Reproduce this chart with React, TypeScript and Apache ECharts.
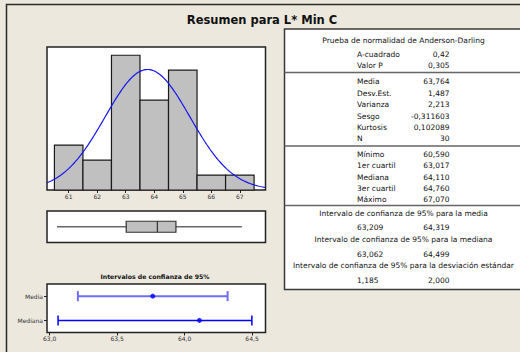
import React, { useEffect, useRef } from "react";
import * as echarts from "echarts";

// ---- data ----
const histBinCenters = [61, 62, 63, 64, 65, 66, 67];
const histCounts = [3, 2, 9, 6, 8, 1, 1];
const binWidth = 1;
const histTicks = [61, 62, 63, 64, 65, 66, 67];
const meanVal = 63.764;
const sdVal = 1.487;
const nObs = 30;
const boxStats = [60.59, 63.017, 64.11, 64.76, 67.07];
const ciCategories = ["Mediana", "Media"];
const ciLow = [63.062, 63.209];
const ciHigh = [64.499, 64.319];
const ciPoint = [64.11, 63.764];
const ciTicks = [63, 63.5, 64, 64.5];

const titleText = "Resumen para L* Min C";
const ciChartTitle = "Intervalos de confianza de 95%";
const adTitle = "Prueba de normalidad de Anderson-Darling";
const adLabels = ["A-cuadrado", "Valor P"];
const adValues = ["0,42", "0,305"];
const descLabels = ["Media", "Desv.Est.", "Varianza", "Sesgo", "Kurtosis", "N"];
const descValues = ["63,764", "1,487", "2,213", "-0,311603", "0,102089", "30"];
const quartLabels = ["Mínimo", "1er cuartil", "Mediana", "3er cuartil", "Máximo"];
const quartValues = ["60,590", "63,017", "64,110", "64,760", "67,070"];
const ciTitles = [
  "Intervalo de confianza de 95% para la media",
  "Intervalo de confianza de 95% para la mediana",
  "Intervalo de confianza de 95% para la desviación estándar",
];
const ciLowText = ["63,209", "63,062", "1,185"];
const ciHighText = ["64,319", "64,499", "2,000"];

const FONT = "DejaVu Sans";
const BG = "#ece8de";

export default function App() {
  const ref = useRef<HTMLDivElement>(null);
  useEffect(() => {
    if (!ref.current) return;
    const chart = echarts.init(ref.current, null, { renderer: "svg" });

    const xMinH = 60.24;
    const xMaxH = 67.9;
    // fitted normal curve from the summary statistics
    const curve: number[][] = [];
    const scale = nObs * binWidth;
    for (let x = xMinH; x <= xMaxH + 1e-9; x += 0.04) {
      const z = (x - meanVal) / sdVal;
      curve.push([x, (scale / (sdVal * Math.sqrt(2 * Math.PI))) * Math.exp(-0.5 * z * z)]);
    }

    const txt = (text: string, x: number, y: number, align: string, size = 7.5, weight = "normal") => ({
      type: "text",
      x,
      y,
      silent: true,
      style: {
        text,
        align,
        verticalAlign: "middle",
        fontSize: size,
        fontFamily: FONT,
        fontWeight: weight,
        fill: "#111",
      },
    });

    const tl = 284.5;
    const labelX = 357;
    const valueX = 449.5;
    const centerX = 403.5;
    const graphics: any[] = [
      {
        type: "rect",
        shape: { x: 6.5, y: 4.5, width: 600, height: 400 },
        style: { fill: "none", stroke: "#2a2a2a", lineWidth: 1.5 },
        silent: true,
      },
      {
        type: "rect",
        shape: { x: tl, y: 29, width: 300, height: 260.5 },
        style: { fill: "#ffffff", stroke: "#3a3a3a", lineWidth: 1.5 },
        silent: true,
      },
      ...[72.5, 146, 205.5].map((y) => ({
        type: "line",
        shape: { x1: tl, y1: y, x2: 560, y2: y },
        style: { stroke: "#666", lineWidth: 1.6 },
        silent: true,
      })),
      txt(titleText, 262, 19.5, "center", 11.5, "bold"),
      txt(ciChartTitle, 155, 276, "center", 6.2, "bold"),
      txt(adTitle, centerX, 40.7, "center"),
    ];
    adLabels.forEach((l, i) => {
      graphics.push(txt(l, labelX, 54.3 + i * 11.4, "left"));
      graphics.push(txt(adValues[i], valueX, 54.3 + i * 11.4, "right"));
    });
    descLabels.forEach((l, i) => {
      graphics.push(txt(l, labelX, 81.7 + i * 11.45, "left"));
      graphics.push(txt(descValues[i], valueX, 81.7 + i * 11.45, "right"));
    });
    quartLabels.forEach((l, i) => {
      graphics.push(txt(l, labelX, 154.3 + i * 11.35, "left"));
      graphics.push(txt(quartValues[i], valueX, 154.3 + i * 11.35, "right"));
    });
    ciTitles.forEach((t, i) => {
      graphics.push(txt(t, centerX, 213.4 + i * 26.2, "center"));
      graphics.push(txt(ciLowText[i], labelX, 227.1 + i * 26.9, "left"));
      graphics.push(txt(ciHighText[i], valueX, 227.1 + i * 26.9, "right"));
    });

    const axisLbl = { fontSize: 6, fontFamily: FONT, color: "#333" };

    chart.setOption({
      animation: false,
      backgroundColor: BG,
      grid: [
        { left: 47, top: 47, width: 218.5, height: 143, show: true, backgroundColor: "#fff", borderColor: "#222", borderWidth: 1.5 },
        { left: 47, top: 211, width: 218.5, height: 31.5, show: true, backgroundColor: "#fff", borderColor: "#222", borderWidth: 1.5 },
        { left: 47, top: 284, width: 218.5, height: 48.5, show: true, backgroundColor: "#fff", borderColor: "#222", borderWidth: 1.5 },
      ],
      xAxis: [
        {
          type: "value", gridIndex: 0, min: xMinH, max: xMaxH,
          axisLine: { show: false }, splitLine: { show: false },
          axisTick: { show: true, length: 3, lineStyle: { color: "#222" }, customValues: histTicks },
          axisLabel: { ...axisLbl, margin: 3, customValues: histTicks, formatter: (v: number) => String(v) },
        },
        { type: "value", gridIndex: 1, min: xMinH, max: xMaxH, show: false, splitLine: { show: false } },
        {
          type: "value", gridIndex: 2, min: 62.98, max: 64.6,
          axisLine: { show: false }, splitLine: { show: false },
          axisTick: { show: true, length: 3, lineStyle: { color: "#222" }, customValues: ciTicks },
          axisLabel: { ...axisLbl, margin: 3, customValues: ciTicks, formatter: (v: number) => v.toFixed(1).replace(".", ",") },
        },
      ],
      yAxis: [
        { type: "value", gridIndex: 0, min: 0, max: 9.55, show: false, splitLine: { show: false } },
        { type: "value", gridIndex: 1, min: 0, max: 1, show: false, splitLine: { show: false } },
        {
          type: "category", gridIndex: 2, data: ciCategories,
          axisLine: { show: false },
          axisTick: { show: true, length: 3, alignWithLabel: true, lineStyle: { color: "#222" } },
          axisLabel: { ...axisLbl, margin: 4 },
        },
      ],
      series: [
        {
          type: "custom", xAxisIndex: 0, yAxisIndex: 0,
          data: histBinCenters.map((c, i) => [c, histCounts[i]]),
          renderItem: (_p: any, api: any) => {
            const c = api.value(0);
            const n = api.value(1);
            const p0 = api.coord([c - binWidth / 2, 0]);
            const p1 = api.coord([c + binWidth / 2, n]);
            return {
              type: "rect",
              shape: { x: p0[0], y: p1[1], width: p1[0] - p0[0], height: p0[1] - p1[1] },
              style: { fill: "#c0c0c0", stroke: "#1a1a1a", lineWidth: 1.2 },
            };
          },
        },
        {
          type: "line", xAxisIndex: 0, yAxisIndex: 0, data: curve,
          showSymbol: false, symbol: "none",
          lineStyle: { color: "#1515f0", width: 1.2 },
        },
        {
          type: "custom", xAxisIndex: 1, yAxisIndex: 1,
          data: [boxStats],
          renderItem: (_p: any, api: any) => {
            const pMin = api.coord([api.value(0), 0.5]);
            const pQ1 = api.coord([api.value(1), 0.5]);
            const pMed = api.coord([api.value(2), 0.5]);
            const pQ3 = api.coord([api.value(3), 0.5]);
            const pMax = api.coord([api.value(4), 0.5]);
            const hh = 5.5;
            const cy = pMin[1];
            return {
              type: "group",
              children: [
                { type: "line", shape: { x1: pMin[0], y1: cy, x2: pMax[0], y2: cy }, style: { stroke: "#666", lineWidth: 1.5 } },
                { type: "rect", shape: { x: pQ1[0], y: cy - hh, width: pQ3[0] - pQ1[0], height: 2 * hh }, style: { fill: "#c0c0c0", stroke: "#333", lineWidth: 1.2 } },
                { type: "line", shape: { x1: pMed[0], y1: cy - hh, x2: pMed[0], y2: cy + hh }, style: { stroke: "#333", lineWidth: 1.2 } },
              ],
            };
          },
        },
        {
          type: "custom", xAxisIndex: 2, yAxisIndex: 2,
          data: ciCategories.map((_c, i) => [ciLow[i], ciHigh[i], i]),
          renderItem: (p: any, api: any) => {
            const a = api.coord([api.value(0), api.value(2)]);
            const b = api.coord([api.value(1), api.value(2)]);
            const color = p.dataIndex === 1 ? "#6e6ef4" : "#0000ff";
            const w = p.dataIndex === 1 ? 2 : 1.5;
            const h = 5;
            return {
              type: "group",
              children: [
                { type: "line", shape: { x1: a[0], y1: a[1], x2: b[0], y2: b[1] }, style: { stroke: color, lineWidth: w } },
                { type: "line", shape: { x1: a[0], y1: a[1] - h, x2: a[0], y2: a[1] + h }, style: { stroke: color, lineWidth: w } },
                { type: "line", shape: { x1: b[0], y1: b[1] - h, x2: b[0], y2: b[1] + h }, style: { stroke: color, lineWidth: w } },
              ],
            };
          },
        },
        {
          type: "scatter", xAxisIndex: 2, yAxisIndex: 2,
          data: ciCategories.map((c, i) => [ciPoint[i], c]),
          symbolSize: 5, itemStyle: { color: "#0000ff" },
        },
      ],
      graphic: graphics,
    });
    return () => chart.dispose();
  }, []);
  return <div ref={ref} style={{ position: "fixed", left: 0, top: 0, width: 520, height: 352 }} />;
}
